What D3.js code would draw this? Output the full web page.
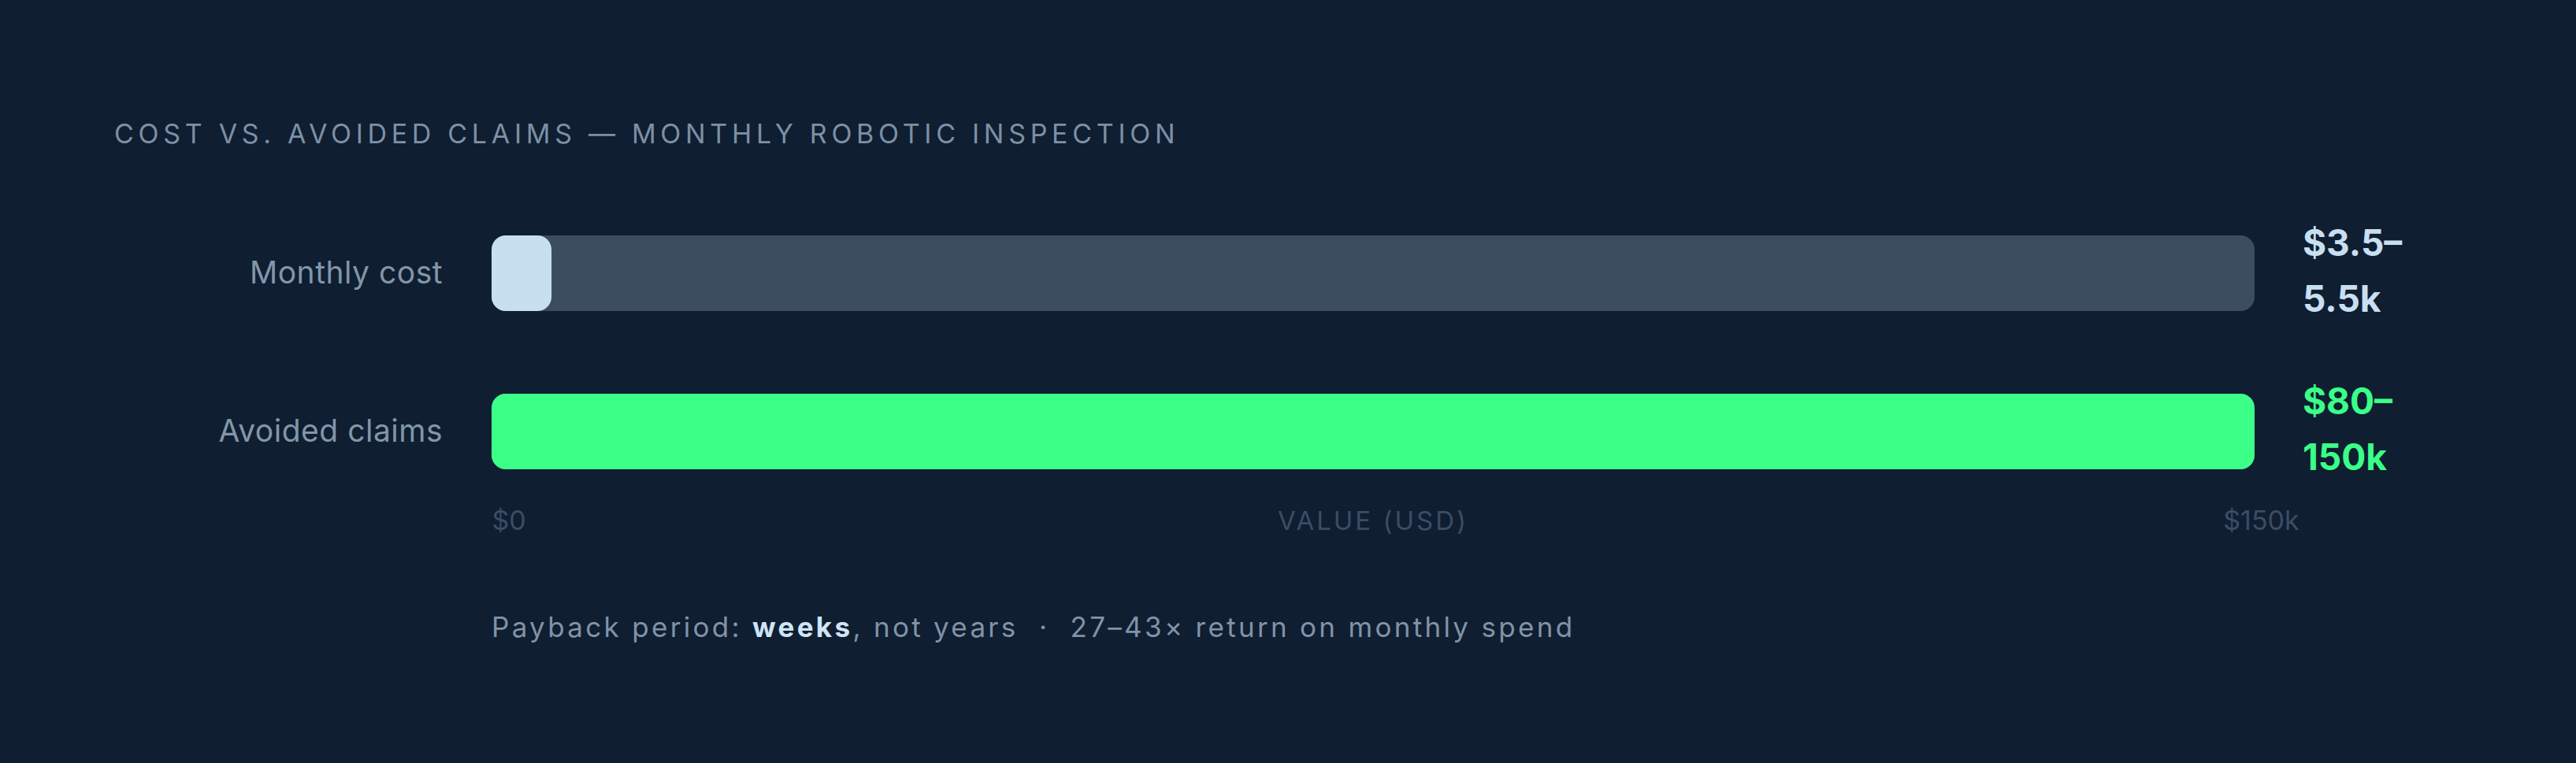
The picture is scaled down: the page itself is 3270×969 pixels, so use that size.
<!DOCTYPE html>
<html>
<head>
<meta charset="utf-8">
<script src="https://cdn.jsdelivr.net/npm/d3@7"></script>
<style>
  html, body { margin: 0; padding: 0; background: #0f1e31; }
  svg { display: block; font-family: Inter, "Noto Sans", "DejaVu Sans", sans-serif; }
</style>
</head>
<body>
<div id="plot"></div>
<script>
// values
const categories = ["Monthly cost", "Avoided claims"];
const barValues = [5100, 150000];
const rangeLines = [["$3.5–", "5.5k"], ["$80–", "150k"]];
const tickValues = [0, 150000];
const tickLabels = ["$0", "$150k"];
const colors = ["#c8dff0", "#3bff87"];

const width = 3270,
  height = 969;

const svg = d3.select("div#plot")
  .append("svg")
  .attr("width", width)
  .attr("height", height);

svg.append("rect")
  .attr("width", width)
  .attr("height", height)
  .attr("fill", "#0f1e31");

// title
svg.append("text")
  .attr("x", 145)
  .attr("y", 182)
  .text("COST VS. AVOIDED CLAIMS — MONTHLY ROBOTIC INSPECTION")
  .style("font-size", "34px")
  .style("letter-spacing", "5.7px")
  .style("fill", "#7d90a4");

const x = d3.scaleLinear()
  .domain([0, 150000])
  .range([624, 2862]);

const y = d3.scalePoint()
  .domain(categories)
  .range([347, 548]);

const barH = 96;

// tracks
svg.selectAll(".track")
  .data(categories)
  .join("rect")
  .attr("class", "track")
  .attr("x", x(0))
  .attr("y", d => y(d) - barH / 2)
  .attr("width", x(150000) - x(0))
  .attr("height", barH)
  .attr("rx", 18)
  .attr("fill", "#3c4d5f");

// fills
svg.selectAll(".bar")
  .data(categories)
  .join("rect")
  .attr("class", "bar")
  .attr("x", x(0))
  .attr("y", d => y(d) - barH / 2)
  .attr("width", (d, i) => x(barValues[i]) - x(0))
  .attr("height", barH)
  .attr("rx", 18)
  .attr("fill", (d, i) => colors[i]);

// row labels
svg.selectAll(".row-label")
  .data(categories)
  .join("text")
  .attr("class", "row-label")
  .attr("x", 562)
  .attr("y", d => y(d) + 13)
  .attr("text-anchor", "end")
  .text(d => d)
  .style("font-size", "39px")
  .style("letter-spacing", "0.5px")
  .style("fill", "#8296aa");

// range labels on the right
categories.forEach(function(c, i) {
  svg.append("text")
    .attr("x", 2923)
    .attr("y", y(c) - 22)
    .text(rangeLines[i][0])
    .style("font-size", "46px")
    .style("font-weight", "700")
    .style("fill", colors[i]);
  svg.append("text")
    .attr("x", 2923)
    .attr("y", y(c) + 49)
    .text(rangeLines[i][1])
    .style("font-size", "46px")
    .style("font-weight", "700")
    .style("fill", colors[i]);
});

// axis
const axis = svg.append("g")
  .attr("transform", "translate(0,673)")
  .call(d3.axisBottom(x)
    .tickValues(tickValues)
    .tickFormat((d, i) => tickLabels[i])
    .tickSize(0)
    .tickPadding(0));

axis.select(".domain").remove();
axis.selectAll("text")
  .attr("y", 0)
  .attr("dy", 0)
  .attr("text-anchor", (d, i) => i === 0 ? "start" : "middle")
  .attr("dx", (d, i) => i === 0 ? 0 : 8)
  .style("font-family", "Inter, 'Noto Sans', sans-serif")
  .style("font-size", "34px")
  .style("fill", "#3b4d63");

svg.append("text")
  .attr("x", (x(0) + x(150000)) / 2)
  .attr("y", 673)
  .attr("text-anchor", "middle")
  .text("VALUE (USD)")
  .style("font-size", "33px")
  .style("letter-spacing", "3px")
  .style("fill", "#3b4d63");

// footer note
const note = svg.append("text")
  .attr("x", 624)
  .attr("y", 809)
  .style("font-size", "35px")
  .style("letter-spacing", "3.3px")
  .style("white-space", "pre")
  .style("fill", "#8193a7");

note.append("tspan").text("Payback period: ");
note.append("tspan").text("weeks").style("font-weight", "700").style("fill", "#d0e4f5");
note.append("tspan").text(", not years  ·  27–43× return on monthly spend");
</script>
</body>
</html>
